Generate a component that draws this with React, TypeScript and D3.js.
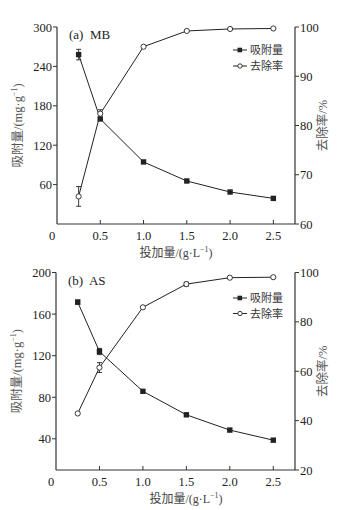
import React from "react";
import * as d3 from "d3";

const doses = [0.25, 0.5, 1.0, 1.5, 2.0, 2.5];
const xTicks = [0.5, 1.0, 1.5, 2.0, 2.5];

// Panel (a) MB
const mbAdsorption = [258, 160, 94.5, 65.5, 48.7, 39];
const mbAdsErr = [8, 2, 1, 1, 1, 1];
const mbRemoval = [65.6, 82.4, 96.0, 99.2, 99.6, 99.7];
const mbRemErr = [2, 0.8, 0.3, 0.3, 0.2, 0.2];
const mbLeftTicks = [60, 120, 180, 240, 300];
const mbRightTicks = [60, 70, 80, 90, 100];

// Panel (b) AS
const asAdsorption = [171.5, 124, 85.7, 63.1, 48.4, 38.7];
const asAdsErr = [2, 3, 1, 0.8, 0.6, 0.6];
const asRemoval = [42.9, 61.5, 85.9, 95.3, 97.9, 98.1];
const asRemErr = [0.5, 2, 0.5, 0.8, 0.4, 0.4];
const asLeftTicks = [40, 80, 120, 160, 200];
const asRightTicks = [20, 40, 60, 80, 100];

const seriesNames = ["吸附量", "去除率"];

const FONT = "'Liberation Serif', 'Times New Roman', serif";
const CJK = "'Noto Sans CJK SC', sans-serif";
const INK = "#222";

type PanelProps = {
  label: string;
  x0: number; x1: number; yTop: number; yBot: number;
  leftDomain: [number, number]; rightDomain: [number, number];
  leftTicks: number[]; rightTicks: number[];
  ads: number[]; adsErr: number[]; rem: number[]; remErr: number[];
  legendY: number; legendGap: number; xTitleX: number;
};

function Panel(p: PanelProps) {
  const x = d3.scaleLinear().domain([0, 2.75]).range([p.x0, p.x1]);
  const yL = d3.scaleLinear().domain(p.leftDomain).range([p.yBot, p.yTop]);
  const yR = d3.scaleLinear().domain(p.rightDomain).range([p.yBot, p.yTop]);
  const lineL = d3.line<number>().x((_, i) => x(doses[i])).y((d) => yL(d));
  const lineR = d3.line<number>().x((_, i) => x(doses[i])).y((d) => yR(d));
  const midY = (p.yTop + p.yBot) / 2;
  const cap = 2.5;
  const errBar = (cx: number, lo: number, hi: number, key: string) => (
    <g key={key} stroke={INK} strokeWidth={0.9}>
      <line x1={cx} x2={cx} y1={lo} y2={hi} />
      <line x1={cx - cap} x2={cx + cap} y1={lo} y2={lo} />
      <line x1={cx - cap} x2={cx + cap} y1={hi} y2={hi} />
    </g>
  );
  return (
    <g>
      {/* axes */}
      <g stroke="#333" strokeWidth={1.2} fill="none">
        <line x1={p.x0} x2={p.x0} y1={p.yTop} y2={p.yBot} />
        <line x1={p.x1} x2={p.x1} y1={p.yTop} y2={p.yBot} />
        <line x1={p.x0} x2={p.x1} y1={p.yBot} y2={p.yBot} />
      </g>
      {/* x ticks (inward) */}
      {xTicks.map((t) => (
        <g key={"xt" + t}>
          <line x1={x(t)} x2={x(t)} y1={p.yBot} y2={p.yBot - 4} stroke="#333" />
          <text x={x(t)} y={p.yBot + 16} textAnchor="middle" fontFamily={FONT} fontSize={12.5} fill={INK}>
            {t.toFixed(1)}
          </text>
        </g>
      ))}
      <text x={p.x0 - 5} y={p.yBot + 16} textAnchor="middle" fontFamily={FONT} fontSize={12.5} fill={INK}>0</text>
      {/* left ticks */}
      {p.leftTicks.map((t) => (
        <g key={"lt" + t}>
          <line x1={p.x0} x2={p.x0 - 4} y1={yL(t)} y2={yL(t)} stroke="#333" />
          <text x={p.x0 - 5} y={yL(t) + 4.5} textAnchor="end" fontFamily={FONT} fontSize={12.5} fill={INK}>{t}</text>
        </g>
      ))}
      {/* right ticks */}
      {p.rightTicks.map((t) => (
        <g key={"rt" + t}>
          <line x1={p.x1} x2={p.x1 + 4} y1={yR(t)} y2={yR(t)} stroke="#333" />
          <text x={p.x1 + 5} y={yR(t) + 4.5} textAnchor="start" fontFamily={FONT} fontSize={12.5} fill={INK}>{t}</text>
        </g>
      ))}
      {/* axis titles */}
      <text transform={`translate(${p.x0 - 35},${midY}) rotate(-90)`} textAnchor="middle" fontSize={12.5} fill="#555">
        <tspan fontFamily={CJK}>吸附量</tspan>
        <tspan fontFamily={FONT}>/(mg·g</tspan>
        <tspan fontFamily={FONT} fontSize={8} dy={-5}>−1</tspan>
        <tspan fontFamily={FONT} dy={5}>)</tspan>
      </text>
      <text transform={`translate(${p.x1 + 32},${midY}) rotate(-90)`} textAnchor="middle" fontSize={12.5} fill="#555">
        <tspan fontFamily={CJK}>去除率</tspan>
        <tspan fontFamily={FONT}>/%</tspan>
      </text>
      <text x={p.xTitleX} y={p.yBot + 33} textAnchor="middle" fontSize={12} fill="#444">
        <tspan fontFamily={CJK}>投加量</tspan>
        <tspan fontFamily={FONT}>/(g·L</tspan>
        <tspan fontFamily={FONT} fontSize={8} dy={-5}>−1</tspan>
        <tspan fontFamily={FONT} dy={5}>)</tspan>
      </text>
      {/* panel label */}
      <text x={p.x0 + 12} y={p.yTop + 12} fontFamily={FONT} fontSize={13} fill={INK} xmlSpace="preserve">{p.label}</text>
      {/* lines */}
      <path d={lineL(p.ads) || ""} fill="none" stroke={INK} strokeWidth={1} />
      <path d={lineR(p.rem) || ""} fill="none" stroke={INK} strokeWidth={1} />
      {/* error bars */}
      {p.ads.map((v, i) => p.adsErr[i] > 1.5 ? errBar(x(doses[i]), yL(v - p.adsErr[i]), yL(v + p.adsErr[i]), "ea" + i) : null)}
      {p.rem.map((v, i) => p.remErr[i] > 0.6 ? errBar(x(doses[i]), yR(v - p.remErr[i]), yR(v + p.remErr[i]), "er" + i) : null)}
      {/* markers */}
      {p.ads.map((v, i) => (
        <rect key={"ma" + i} x={x(doses[i]) - 2.7} y={yL(v) - 2.7} width={5.4} height={5.4} fill={INK} />
      ))}
      {p.rem.map((v, i) => (
        <circle key={"mr" + i} cx={x(doses[i])} cy={yR(v)} r={2.6} fill="#fff" stroke={INK} strokeWidth={0.9} />
      ))}
      {/* legend */}
      <g>
        <line x1={233} x2={247} y1={p.legendY} y2={p.legendY} stroke={INK} />
        <rect x={237.5} y={p.legendY - 2.3} width={4.6} height={4.6} fill={INK} />
        <text x={250} y={p.legendY + 4} fontFamily={CJK} fontSize={11} fill="#333">{seriesNames[0]}</text>
        <line x1={233} x2={247} y1={p.legendY + p.legendGap} y2={p.legendY + p.legendGap} stroke={INK} />
        <circle cx={240} cy={p.legendY + p.legendGap} r={2.2} fill="#fff" stroke={INK} strokeWidth={0.9} />
        <text x={250} y={p.legendY + p.legendGap + 4} fontFamily={CJK} fontSize={11} fill="#333">{seriesNames[1]}</text>
      </g>
    </g>
  );
}

export default function App() {
  return (
    <svg width={353} height={510} style={{ position: "absolute", left: 0, top: 0, background: "#fff" }}>
      <rect width={353} height={510} fill="#fff" />
      <Panel
        label="(a)  MB"
        x0={57} x1={295} yTop={27} yBot={224}
        leftDomain={[0, 300]} rightDomain={[60, 100]}
        leftTicks={mbLeftTicks} rightTicks={mbRightTicks}
        ads={mbAdsorption} adsErr={mbAdsErr} rem={mbRemoval} remErr={mbRemErr}
        legendY={50} legendGap={16} xTitleX={176}
      />
      <Panel
        label="(b)  AS"
        x0={56} x1={295} yTop={272.5} yBot={470}
        leftDomain={[10, 200]} rightDomain={[20, 100]}
        leftTicks={asLeftTicks} rightTicks={asRightTicks}
        ads={asAdsorption} adsErr={asAdsErr} rem={asRemoval} remErr={asRemErr}
        legendY={298} legendGap={15.5} xTitleX={186}
      />
    </svg>
  );
}
